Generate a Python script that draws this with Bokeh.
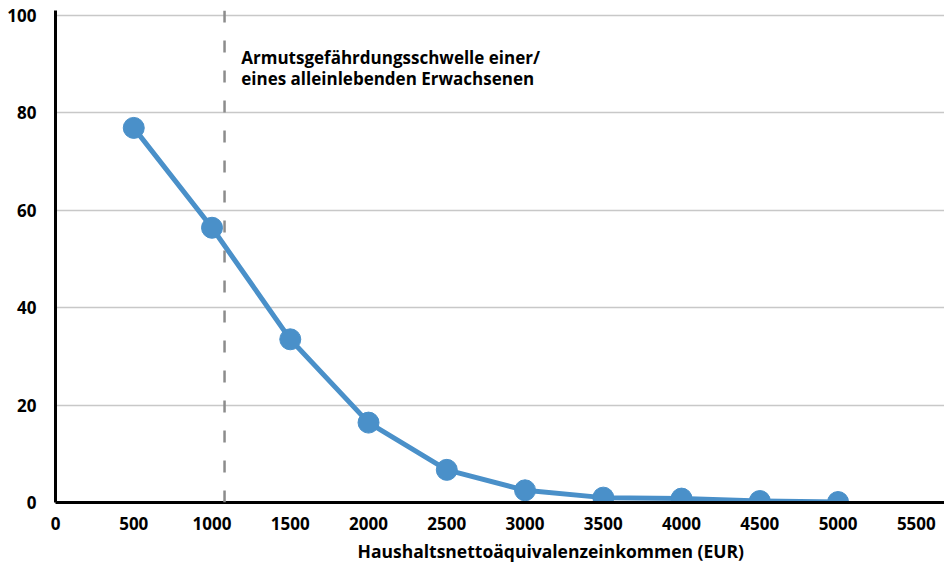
from bokeh.plotting import figure
from bokeh.models import Span, Label, Range1d, ColumnDataSource, Title
from bokeh.embed import file_html
from bokeh.resources import INLINE

income = [500, 1000, 1500, 2000, 2500, 3000, 3500, 4000, 4500, 5000]
share = [76.9, 56.4, 33.5, 16.4, 6.7, 2.5, 1.0, 0.8, 0.3, 0.1]
threshold = 1080
x_ticks = list(range(0, 5501, 500))
y_ticks = [0, 20, 40, 60, 80, 100]
x_title = "Haushaltsnettoäquivalenzeinkommen (EUR)"
note_lines = ["Armutsgefährdungsschwelle einer/", "eines alleinlebenden Erwachsenen"]

FONT = "Open Sans"
BLUE = "#4A90C9"

p = figure(width=944, height=568, output_backend="svg", toolbar_location=None,
           x_range=Range1d(0, 5680), y_range=Range1d(0, 101),
           min_border_left=55, min_border_right=0, min_border_top=10, min_border_bottom=66)
p.outline_line_color = None
p.background_fill_color = "white"

p.xaxis.ticker = x_ticks
p.yaxis.ticker = y_ticks
for ax in (p.xaxis, p.yaxis):
    ax.axis_line_color = "black"
    ax.axis_line_width = 3
    ax.major_tick_line_color = None
    ax.minor_tick_line_color = None
    ax.major_label_text_font = FONT
    ax.major_label_text_font_style = "bold"
    ax.major_label_text_font_size = "17px"
    ax.major_label_text_color = "black"
    ax.major_label_text_line_height = 1.0
p.xaxis.major_label_standoff = 8
p.yaxis.major_label_standoff = 13

p.xgrid.grid_line_color = None
p.ygrid.grid_line_color = "#C8C8C8"
p.ygrid.grid_line_width = 1.5

src = ColumnDataSource(dict(x=income, y=share))
p.line("x", "y", source=src, line_color=BLUE, line_width=5)
p.scatter("x", "y", source=src, size=21, fill_color=BLUE, line_color=BLUE)

p.add_layout(Span(location=threshold, dimension="height", line_color="#8C8C8C",
                  line_width=2.5, line_dash="12 18"))

p.add_layout(Label(x=1187, y=91.3, text=note_lines[0], text_font=FONT,
                   text_font_style="bold", text_font_size="17px", text_color="black",
                   text_baseline="alphabetic"))
p.add_layout(Label(x=1187, y=87.1, text=note_lines[1], text_font=FONT,
                   text_font_style="bold", text_font_size="17px", text_color="black",
                   text_baseline="alphabetic"))

p.add_layout(Title(text=x_title, align="left", offset=302, standoff=9,
                   text_font=FONT, text_font_style="bold", text_font_size="17.5px",
                   text_color="black"), "below")

open("out.html", "w").write(file_html(p, INLINE))
